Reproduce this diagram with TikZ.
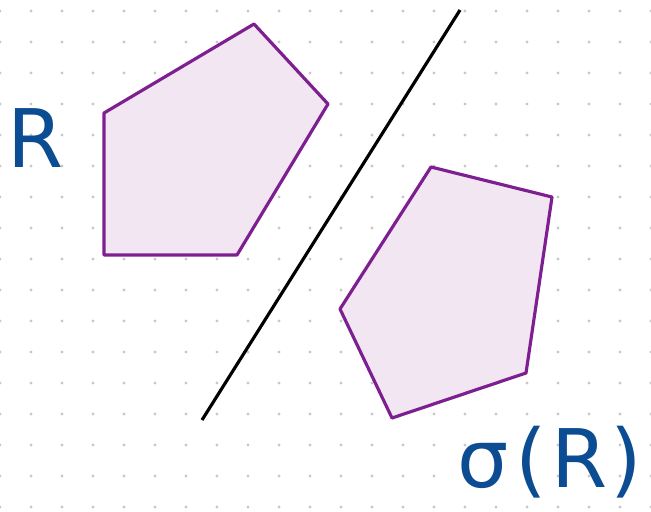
\documentclass[tikz,border=0pt]{standalone}
\usepackage{fontspec}
\setmainfont{DejaVu Sans}
\definecolor{regionline}{RGB}{125,30,145}
\definecolor{regionfill}{RGB}{241,230,241}
\definecolor{labelblue}{RGB}{12,76,146}
\definecolor{griddot}{RGB}{200,200,200}

\begin{document}
\begin{tikzpicture}[x=0.02cm, y=-0.02cm,
    region/.style={draw=regionline, fill=regionfill, line width=1.8pt, line join=round},
    mirror/.style={draw=black, line width=1.8pt},
    handlabel/.style={text=labelblue, font=\fontsize{46}{46}\selectfont, inner sep=0pt}]
        \useasboundingbox (0,0) rectangle (651,511);

        % dotted paper
        \foreach \i in {0,...,21}
            \foreach \j in {0,...,16}
                \fill[griddot] (31*\i, 11+31*\j) circle[radius=1.7];

        % the set R and its reflection
        \draw[region] (104,113) -- (254,24) -- (328,104) -- (237,255) -- (104,255) -- cycle;
        \draw[region] (431,167) -- (552,197) -- (526,373) -- (392,418) -- (340,309) -- cycle;

        % line of reflection
        \coordinate (top) at (460,10);
        \coordinate (bottom) at (202,420);
        \draw[mirror] (top) -- (bottom);

        \node[handlabel] (r) at (36,138) {R};
        \node[handlabel] (sr) at (550,462) {σ\kern4pt(\kern2pt R\kern2pt)};
    \end{tikzpicture}
\end{document}
